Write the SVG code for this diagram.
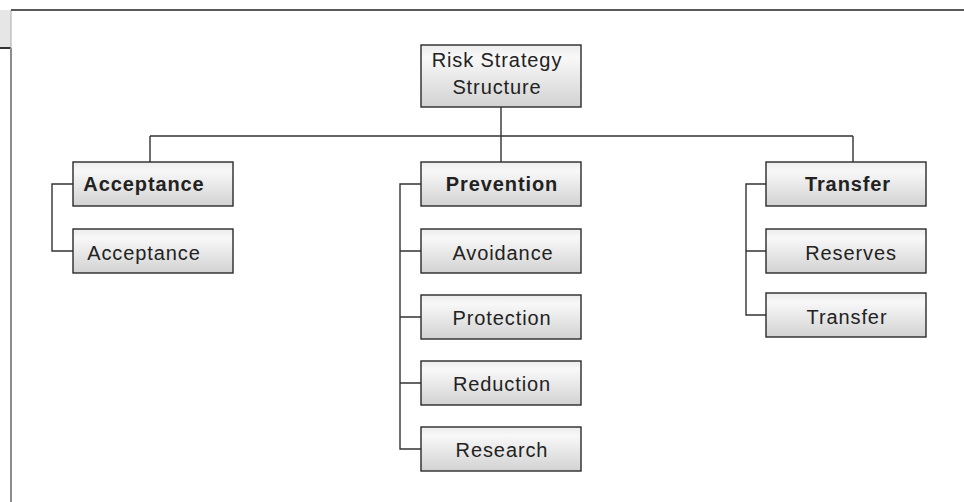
<svg xmlns="http://www.w3.org/2000/svg" width="964" height="502" viewBox="0 0 964 502">
<defs>
<linearGradient id="g" x1="0" y1="0" x2="0" y2="1">
<stop offset="0" stop-color="#ececec"/>
<stop offset="0.2" stop-color="#f8f8f8"/>
<stop offset="1" stop-color="#d2d2d2"/>
</linearGradient>
</defs>
<style>
.box{fill:url(#g);stroke:#2a2a2a;stroke-width:1.4}
.t{font-family:"Liberation Sans",Arial,sans-serif;font-size:20px;letter-spacing:0.9px;fill:#222;text-anchor:middle}
.b{font-weight:bold}
.c{fill:none;stroke:#333;stroke-width:1.4}
</style>
<rect width="964" height="502" fill="#fff"/>
<g id="frame">
<rect x="0" y="10" width="11" height="37.5" fill="#e6e6e6"/>
<line x1="0" y1="48" x2="11" y2="48" stroke="#333" stroke-width="2"/>
<line x1="11" y1="10" x2="11" y2="48" stroke="#aaa" stroke-width="1"/>
<line x1="11" y1="48" x2="11" y2="502" stroke="#8c8c8c" stroke-width="2"/>
<line x1="11" y1="10" x2="964" y2="10" stroke="#222" stroke-width="1.5"/>
</g>
<g id="connectors">
<path class="c" d="M501 107V136M150 136H853M150 136V162M501 136V162M853 136V162"/>
<path class="c" d="M73 184H52V251H73"/>
<path class="c" d="M421 184H400V449H421M400 251H421M400 317H421M400 383H421"/>
<path class="c" d="M766 184H746V315H766M746 251H766"/>
</g>
<g id="root">
<rect class="box" x="421" y="45" width="160" height="62"/>
<text class="t" x="497" y="67">Risk Strategy</text>
<text class="t" x="497" y="94">Structure</text>
</g>
<g id="acceptance-head">
<rect class="box" x="73" y="162" width="160" height="44"/>
<text class="t b" x="144" y="191">Acceptance</text>
</g>
<g id="acceptance">
<rect class="box" x="73" y="229" width="160" height="44"/>
<text class="t" x="144" y="260">Acceptance</text>
</g>
<g id="prevention-head">
<rect class="box" x="421" y="162" width="160" height="44"/>
<text class="t b" x="502" y="191">Prevention</text>
</g>
<g id="avoidance">
<rect class="box" x="421" y="229" width="160" height="44"/>
<text class="t" x="503" y="260">Avoidance</text>
</g>
<g id="protection">
<rect class="box" x="421" y="295" width="160" height="44"/>
<text class="t" x="502" y="325">Protection</text>
</g>
<g id="reduction">
<rect class="box" x="421" y="361" width="160" height="44"/>
<text class="t" x="502" y="391">Reduction</text>
</g>
<g id="research">
<rect class="box" x="421" y="427" width="160" height="44"/>
<text class="t" x="502" y="457">Research</text>
</g>
<g id="transfer-head">
<rect class="box" x="766" y="162" width="160" height="44"/>
<text class="t b" x="848" y="191">Transfer</text>
</g>
<g id="reserves">
<rect class="box" x="766" y="229" width="160" height="44"/>
<text class="t" x="851" y="260">Reserves</text>
</g>
<g id="transfer">
<rect class="box" x="766" y="293" width="160" height="44"/>
<text class="t" x="847" y="324">Transfer</text>
</g>
</svg>
